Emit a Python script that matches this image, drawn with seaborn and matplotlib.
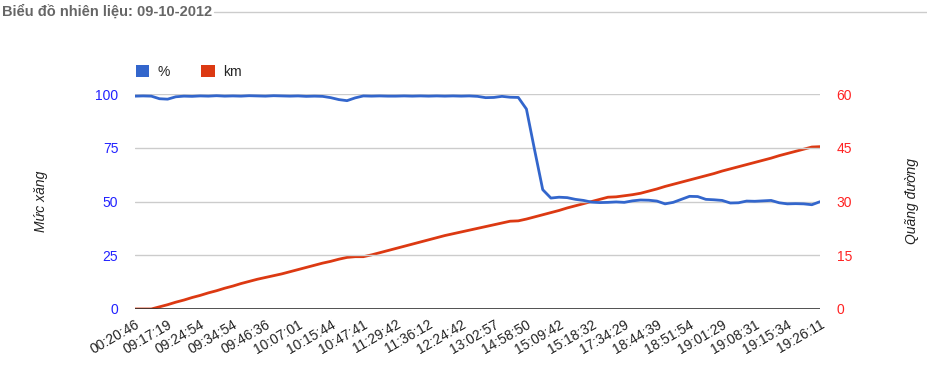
import numpy as np
import pandas as pd
import matplotlib
matplotlib.use("Agg")
import matplotlib.pyplot as plt
from matplotlib.patches import Patch
from matplotlib.lines import Line2D
import seaborn as sns

# dữ liệu
tieu_de = "Biểu đồ nhiên liệu: 09-10-2012"
nhan_thoi_gian = ["00:20:46", "09:17:19", "09:24:54", "09:34:54", "09:46:36", "10:07:01",
                  "10:15:44", "10:47:41", "11:29:42", "11:36:12", "12:24:42", "13:02:57",
                  "14:58:50", "15:09:42", "15:18:32", "17:34:29", "18:44:39", "18:51:54",
                  "19:01:29", "19:08:31", "19:15:34", "19:26:11"]

muc_xang = [99.0, 99.1, 99.0, 97.8, 97.6, 98.7, 99.0, 98.9, 99.1, 99.0,
            99.2, 99.0, 99.1, 99.0, 99.2, 99.1, 99.0, 99.2, 99.1, 99.0,
            99.1, 98.9, 99.0, 98.9, 98.3, 97.4, 96.9, 98.2, 99.1, 99.0,
            99.1, 99.0, 99.0, 99.1, 99.0, 99.1, 99.0, 99.1, 99.0, 99.1,
            99.0, 99.1, 98.9, 98.3, 98.4, 98.9, 98.5, 98.4, 93.0, 74.0,
            55.5, 51.6, 52.0, 51.8, 51.0, 50.5, 49.7, 49.5, 49.6, 49.8,
            49.6, 50.3, 50.7, 50.6, 50.2, 48.9, 49.6, 51.0, 52.4, 52.3,
            51.0, 50.8, 50.5, 49.3, 49.4, 50.2, 50.1, 50.3, 50.5, 49.4,
            48.9, 49.0, 48.9, 48.5, 49.9]

quang_duong = [0.0, 0.0, 0.0, 0.6, 1.2, 1.9, 2.5, 3.2, 3.8, 4.5,
               5.1, 5.8, 6.4, 7.1, 7.7, 8.3, 8.8, 9.3, 9.8, 10.4,
               11.0, 11.6, 12.2, 12.8, 13.3, 13.9, 14.4, 14.6, 14.6, 15.1,
               15.7, 16.3, 16.9, 17.5, 18.1, 18.7, 19.3, 19.9, 20.5, 21.0,
               21.5, 22.0, 22.5, 23.0, 23.5, 24.0, 24.5, 24.6, 25.1, 25.7,
               26.3, 26.9, 27.5, 28.2, 28.8, 29.4, 30.0, 30.6, 31.2, 31.3,
               31.6, 31.9, 32.3, 32.9, 33.5, 34.2, 34.8, 35.4, 36.0, 36.6,
               37.2, 37.8, 38.5, 39.1, 39.7, 40.3, 40.9, 41.5, 42.1, 42.8,
               43.4, 44.0, 44.6, 45.2, 45.3]

buoc_nhan = 4  # mỗi nhãn cách nhau 4 điểm

df = pd.DataFrame({"diem": np.arange(len(muc_xang)),
                   "muc_xang": muc_xang,
                   "quang_duong": quang_duong})

sns.set_theme(style="white")
plt.rcParams["font.family"] = ["Liberation Sans", "DejaVu Sans"]

xanh = "#3366CC"
do = "#DC3912"

W, H = 927, 366
fig = plt.figure(figsize=(W / 100, H / 100), dpi=100)
ax = fig.add_axes([135 / W, 1 - 309 / H, 685 / W, 215 / H])
ax2 = ax.twinx()

sns.lineplot(data=df, x="diem", y="muc_xang", ax=ax, color=xanh, linewidth=2)
sns.lineplot(data=df, x="diem", y="quang_duong", ax=ax2, color=do, linewidth=2)

ax.set_xlim(0, len(muc_xang) - 1)
ax.set_ylim(0, 100)
ax2.set_ylim(0, 60)
ax.set_yticks([0, 25, 50, 75, 100])
ax2.set_yticks([0, 15, 30, 45, 60])

# lưới ngang
for v in [25, 50, 75, 100]:
    ax.axhline(v, color="#cccccc", linewidth=1, zorder=0)
ax.axhline(0, color="#333333", linewidth=1.2, zorder=3)

for a in (ax, ax2):
    for s in a.spines.values():
        s.set_visible(False)
    a.grid(False)
ax.set_zorder(ax2.get_zorder() + 1)
ax.patch.set_visible(False)

ax.set_xticks(np.arange(0, len(muc_xang), buoc_nhan))
ax.set_xticklabels(nhan_thoi_gian, rotation=30, ha="right", va="top",
                   rotation_mode="anchor", fontsize=10, color="#222222")
ax.tick_params(axis="x", length=0, pad=6)
ax.tick_params(axis="y", length=0, pad=12, labelsize=10, labelcolor="#2222ff")
ax2.tick_params(axis="y", length=0, pad=12, labelsize=10, labelcolor="#ff2222")

ax.set_xlabel("")
ax.set_ylabel("Mức xăng", fontsize=10, style="italic", color="#222222")
ax2.set_ylabel("Quãng đường", fontsize=10, style="italic", color="#222222", rotation=90)
ax.yaxis.set_label_coords((48 - 135) / 685, 0.5)
ax2.yaxis.set_label_coords((905 - 135) / 685, 0.5)

# tiêu đề và đường kẻ
t = fig.text(2 / W, 1 - 12 / H, tieu_de, fontsize=10.5, fontweight="bold",
             color="#666666", va="center", ha="left")
fig.canvas.draw()
bb = t.get_window_extent()
fig.add_artist(Line2D([(bb.x1 + 2) / W, 1], [1 - 12 / H, 1 - 12 / H],
                      color="#cccccc", linewidth=1))

# chú giải
handles = [Patch(facecolor=xanh, edgecolor="none", label="%"),
           Patch(facecolor=do, edgecolor="none", label="km")]
fig.legend(handles=handles, loc="upper left", bbox_to_anchor=(123 / W, 1 - 52 / H),
           ncol=2, frameon=False, fontsize=10, handlelength=1.0, handleheight=1.0,
           handletextpad=0.6, columnspacing=2.2)

fig.savefig("out.png", dpi=100)
